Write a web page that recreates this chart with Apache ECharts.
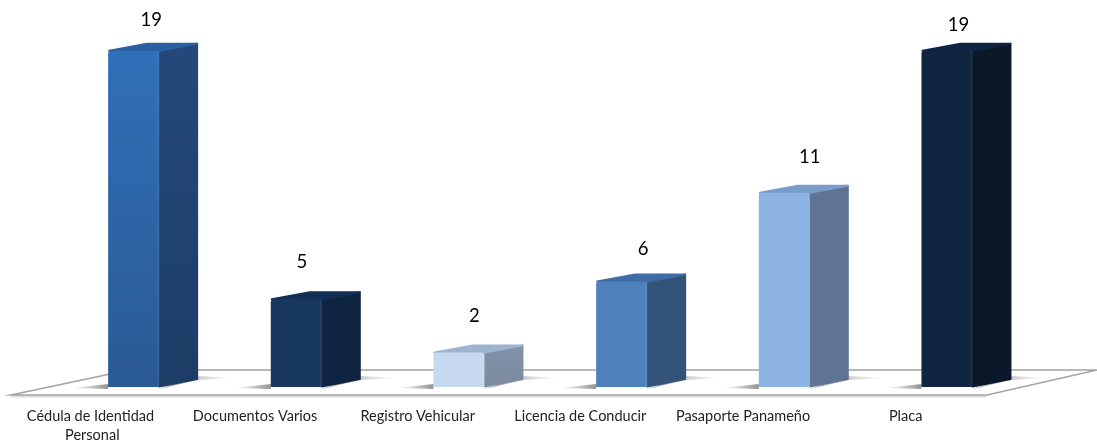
<!DOCTYPE html>
<html><head><meta charset="utf-8">
<style>html,body{margin:0;padding:0;background:#fff}#c{width:1097px;height:440px}</style>
<script src="https://cdn.jsdelivr.net/npm/echarts@6/dist/echarts.min.js"></script>
</head><body><div id="c"></div>
<script>
const categories = ['Cédula de Identidad Personal','Documentos Varios','Registro Vehicular','Licencia de Conducir','Pasaporte Panameño','Placa'];
const values = [19,5,2,6,11,19];
const frontTop = ['#306fb8','#17375f','#c6d9f1','#4f81bd','#8db4e2','#10253f'];
const frontBottom = ['#2a5a94','#17375f','#c6d9f1','#4f81bd','#8db4e2','#10253f'];
const sideTop = ['#24497a','#0f2440','#8192a8','#335379','#5f7494','#0a1829'];
const sideBottom = ['#1d3d66','#0f2440','#7c8b9e','#335379','#5f7494','#0a1829'];
const topFace = ['#2c5f9f','#142f55','#9db3d0','#3f6ca6','#7a9cc9','#112543'];
const labelDx = [43,31,41,47,51,37];
const labelDy = [31,37,36,32,36,26];

const SHIFT = 41.3, HALF = 25.5, DX = 39, DY = 8, LIFT = 8, TOP_INSET = 1;
const FLOOR_BACK = 25, FLOOR_SKEW_R = 110, FLOOR_SKEW_L = 118;
function grad(a,b,horizontal){return {type:'linear',x:0,y:0,x2:horizontal?1:0,y2:horizontal?0:1,colorStops:[{offset:0,color:a},{offset:1,color:b}]};}
function poly(points,fill){return {type:'polygon',shape:{points},style:{fill,stroke:fill,lineWidth:2,lineJoin:'round'}};}

function renderBar(params, api){
  const i = params.dataIndex;
  const base = api.coord([api.value(0),0]);
  const topP = api.coord([api.value(0),api.value(1)]);
  const x0 = base[0]+SHIFT-HALF, x1 = base[0]+SHIFT+HALF;
  const yb = base[1]-LIFT, yt = topP[1]-LIFT+TOP_INSET;
  const cs = params.coordSys;
  const children = [];
  if(i===0){
    const l=cs.x, r=cs.x+cs.width, f=cs.y+cs.height, b=f-FLOOR_BACK;
    children.push({type:'line',shape:{x1:l,y1:f+1.5,x2:r,y2:f+1.5},style:{stroke:'#dedede',lineWidth:2}});
    children.push({type:'polygon',shape:{points:[[l,f],[l+FLOOR_SKEW_L,b],[r+FLOOR_SKEW_R,b],[r,f]]},
      style:{fill:'#fff',stroke:'#a3a3a3',lineWidth:1.6,lineJoin:'miter'}});
  }
  // contact shadows
  children.push({type:'polygon',shape:{points:[[x0-36,yb+1],[x0,yb-3],[x0,yb+2]]},style:{fill:grad('rgba(120,120,120,0)','rgba(120,120,120,0.8)',true)}});
  children.push({type:'polygon',shape:{points:[[x1,yb+2],[x1+DX,yb-DY+1],[x1+DX+36,yb-DY-1],[x1+DX,yb-DY-3]]},style:{fill:grad('rgba(110,110,110,0.8)','rgba(140,140,140,0)',true)}});
  // faces
  children.push(poly([[x1,yt],[x1+DX-1,yt-DY+1],[x1+DX-1,yb-DY],[x1,yb-0.5]],grad(sideTop[i],sideBottom[i])));
  children.push(poly([[x0+1,yt],[x0+DX,yt-DY+1],[x1+DX-1,yt-DY+1],[x1,yt]],topFace[i]));
  children.push({type:'rect',shape:{x:x0,y:yt,width:x1-x0,height:yb-yt,r:[3,3,0,0]},style:{fill:grad(frontTop[i],frontBottom[i])}});
  children.push({type:'rect',shape:{x:x1-3,y:yt,width:3,height:yb-yt},style:{fill:grad('rgba(255,255,255,0)','rgba(255,255,255,0.07)',true)}});
  children.push({type:'text',style:{text:String(values[i]),x:x0+labelDx[i],y:yt-labelDy[i],align:'center',verticalAlign:'middle',
    font:'18.5px Lato, sans-serif',fill:'#000'}});
  return {type:'group',children};
}

const chart = echarts.init(document.getElementById('c'),null,{renderer:'canvas'});
chart.setOption({
  animation:false,
  grid:{left:11,top:40,width:976,height:355,outerBoundsMode:'none'},
  xAxis:{type:'category',data:categories,axisLine:{show:false},axisTick:{show:false},splitLine:{show:false},
    axisLabel:{interval:0,margin:12,width:150,overflow:'break',fontFamily:'Lato, sans-serif',fontSize:14.5,color:'#222',lineHeight:19}},
  yAxis:{type:'value',min:0,max:20,show:false},
  series:[{type:'custom',renderItem:renderBar,clip:false,encode:{x:0,y:1},
    data:values.map((v,i)=>[i,v])}]
});
</script></body></html>
